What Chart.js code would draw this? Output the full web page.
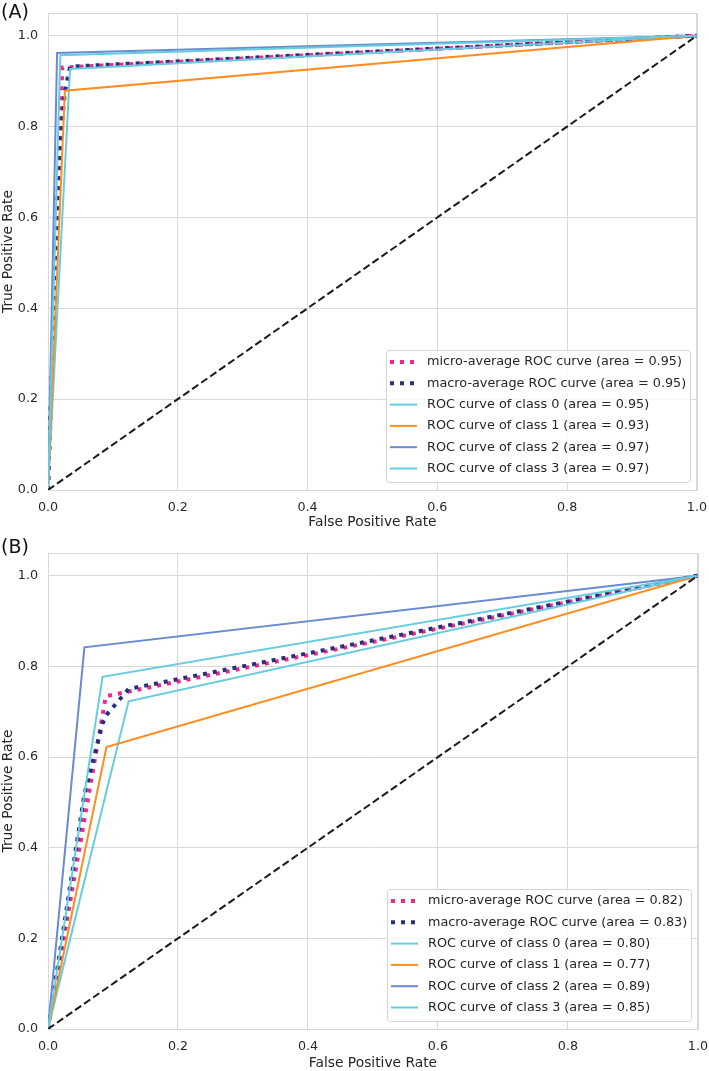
<!DOCTYPE html>
<html>
<head>
<meta charset="utf-8">
<script src="https://cdn.jsdelivr.net/npm/chart.js@4.4.0/dist/chart.umd.min.js"></script>
<style>
  html, body { margin: 0; padding: 0; background: #fff; }
  #wrap { position: relative; width: 709px; height: 1071px; overflow: hidden; }
  canvas { position: absolute; left: 0; }
  #chartA { top: -10px; }
  #chartB { top: 530px; }
</style>
</head>
<body>
<div id="wrap">
  <canvas id="chartA" width="717" height="541"></canvas>
  <canvas id="chartB" width="718" height="542"></canvas>
</div>
<script>
var axisTicks = [0, 0.2, 0.4, 0.6, 0.8, 1.0];
var classNames = ["class 0", "class 1", "class 2", "class 3"];

// Panel (A)
var microFprA = [0, 0.022, 1];
var microTprA = [0, 0.93, 1];
var macroFprA = [0, 0.014, 0.019, 0.026, 0.034, 1];
var macroTprA = [0, 0.631, 0.770, 0.877, 0.932, 1];
var classFprA = [[0, 0.034, 1], [0, 0.026, 1], [0, 0.014, 1], [0, 0.019, 1]];
var classTprA = [[0, 0.927, 1], [0, 0.879, 1], [0, 0.962, 1], [0, 0.957, 1]];
var microAreaA = 0.95;
var macroAreaA = 0.95;
var classAreaA = [0.95, 0.93, 0.97, 0.97];

// Panel (B)
var microFprB = [0, 0.089, 1];
var microTprB = [0, 0.734, 1];
var macroFprB = [0, 0.056, 0.084, 0.090, 0.124, 1];
var macroTprB = [0, 0.518, 0.674, 0.693, 0.750, 1];
var classFprB = [[0, 0.124, 1], [0, 0.090, 1], [0, 0.056, 1], [0, 0.084, 1]];
var classTprB = [[0, 0.723, 1], [0, 0.622, 1], [0, 0.842, 1], [0, 0.777, 1]];
var microAreaB = 0.82;
var macroAreaB = 0.83;
var classAreaB = [0.80, 0.77, 0.89, 0.85];

var chanceFpr = [0, 1];
var chanceTpr = [0, 1];

var microColor = "#f0288c";
var macroColor = "#26307c";
var classColors = ["#66cde0", "#ff8c1e", "#6a8ad2", "#66cde0"];
var gridColor = "#d8d8d8";
var textColor = "#262626";
var fontFamily = "'DejaVu Sans', sans-serif";

function toPoints(xs, ys) {
  return xs.map(function (x, i) { return { x: x, y: ys[i] }; });
}

// legend drawn inside the plot, lower right like matplotlib
var insideLegend = {
  id: "insideLegend",
  afterDraw: function (chart) {
    var ctx = chart.ctx;
    var area = chart.chartArea;
    var items = chart.data.datasets.filter(function (d) { return d.label; });
    ctx.save();
    ctx.font = "12.8px " + fontFamily;
    var textW = Math.max.apply(null, items.map(function (d) { return ctx.measureText(d.label).width; }));
    var w = Math.round(4 + 27 + 10 + textW + 4);
    var h = 132;
    var x0 = Math.round(area.right - 7 - w);
    var y0 = Math.round(area.bottom - 8 - h);
    ctx.beginPath();
    ctx.roundRect(x0 + 0.5, y0 + 0.5, w, h, 3);
    ctx.fillStyle = "rgba(255,255,255,0.8)";
    ctx.fill();
    ctx.strokeStyle = "#d4d4d4";
    ctx.lineWidth = 1;
    ctx.stroke();
    items.forEach(function (d, i) {
      var cy = y0 + 12 + i * 21.3;
      ctx.beginPath();
      ctx.setLineDash(d.borderDash || []);
      ctx.lineCap = "butt";
      ctx.lineWidth = d.borderWidth;
      ctx.strokeStyle = d.borderColor;
      ctx.moveTo(x0 + 4, cy);
      ctx.lineTo(x0 + 31, cy);
      ctx.stroke();
      ctx.setLineDash([]);
      ctx.fillStyle = textColor;
      ctx.textBaseline = "middle";
      ctx.textAlign = "left";
      ctx.fillText(d.label, x0 + 41, cy);
    });
    ctx.restore();
  }
};

// plot frame and panel letter
var frameAndTag = {
  id: "frameAndTag",
  beforeDatasetsDraw: function (chart) {
    var ctx = chart.ctx;
    var a = chart.chartArea;
    ctx.save();
    ctx.strokeStyle = gridColor;
    ctx.lineWidth = 1;
    ctx.strokeRect(Math.round(a.left) + 0.5, Math.round(a.top) + 0.5,
      Math.round(a.right - a.left), Math.round(a.bottom - a.top));
    ctx.restore();
  },
  afterDraw: function (chart, args, opts) {
    var ctx = chart.ctx;
    ctx.save();
    ctx.font = "19px " + fontFamily;
    ctx.fillStyle = "#111";
    ctx.textBaseline = "alphabetic";
    ctx.fillText(opts.tag, 1, opts.tagY);
    ctx.restore();
  }
};

function makeChart(id, tag, tagY, padTop, axisHeight, p) {
  var datasets = [
    {
      label: "micro-average ROC curve (area = " + p.microArea.toFixed(2) + ")",
      data: toPoints(p.microFpr, p.microTpr),
      borderColor: microColor, borderWidth: 4, borderDash: [4, 6], order: 6
    },
    {
      label: "macro-average ROC curve (area = " + p.macroArea.toFixed(2) + ")",
      data: toPoints(p.macroFpr, p.macroTpr),
      borderColor: macroColor, borderWidth: 4, borderDash: [4, 6], order: 5
    }
  ];
  classNames.forEach(function (name, i) {
    datasets.push({
      label: "ROC curve of " + name + " (area = " + p.classArea[i].toFixed(2) + ")",
      data: toPoints(p.classFpr[i], p.classTpr[i]),
      borderColor: classColors[i], borderWidth: 2, order: 4 - i
    });
  });
  datasets.push({
    label: "",
    data: toPoints(chanceFpr, chanceTpr),
    borderColor: "#1a1a1a", borderWidth: 2, borderDash: [7.5, 3.5], order: 0
  });

  var tickFont = { family: fontFamily, size: 12.7 };
  var titleFont = { family: fontFamily, size: 13.8 };
  new Chart(document.getElementById(id).getContext("2d"), {
    type: "line",
    data: { datasets: datasets },
    options: {
      responsive: false,
      animation: false,
      layout: { padding: { left: 0, top: padTop, right: 0, bottom: 0 } },
      elements: {
        point: { radius: 0 },
        line: { tension: 0, borderCapStyle: "butt", borderJoinStyle: "miter" }
      },
      plugins: {
        legend: { display: false },
        tooltip: { enabled: false },
        frameAndTag: { tag: tag, tagY: tagY }
      },
      scales: {
        x: {
          type: "linear",
          min: 0,
          max: 1,
          afterBuildTicks: function (ax) { ax.ticks = axisTicks.map(function (v) { return { value: v }; }); },
          afterFit: function (s) { s.height = axisHeight; },
          grid: { color: gridColor, drawTicks: false },
          border: { display: false },
          ticks: { padding: 10, color: textColor, font: tickFont, maxRotation: 0,
            callback: function (v) { return v.toFixed(1); } },
          title: { display: true, text: "False Positive Rate", color: textColor, font: titleFont, padding: 0 }
        },
        y: {
          type: "linear",
          min: 0,
          max: 1.05,
          afterBuildTicks: function (ax) { ax.ticks = axisTicks.map(function (v) { return { value: v }; }); },
          afterFit: function (s) { s.width = 48; },
          grid: { color: gridColor, drawTicks: false },
          border: { display: false },
          ticks: { padding: 10, color: textColor, font: tickFont,
            callback: function (v) { return v.toFixed(1); } },
          title: { display: true, text: "True Positive Rate", color: textColor, font: titleFont, padding: 0 }
        }
      }
    },
    plugins: [frameAndTag, insideLegend]
  });
}

makeChart("chartA", "(A)", 28, 23, 41, {
  microFpr: microFprA, microTpr: microTprA, microArea: microAreaA,
  macroFpr: macroFprA, macroTpr: macroTprA, macroArea: macroAreaA,
  classFpr: classFprA, classTpr: classTprA, classArea: classAreaA
});

makeChart("chartB", "(B)", 23, 23, 43, {
  microFpr: microFprB, microTpr: microTprB, microArea: microAreaB,
  macroFpr: macroFprB, macroTpr: macroTprB, macroArea: macroAreaB,
  classFpr: classFprB, classTpr: classTprB, classArea: classAreaB
});
</script>
</body>
</html>
